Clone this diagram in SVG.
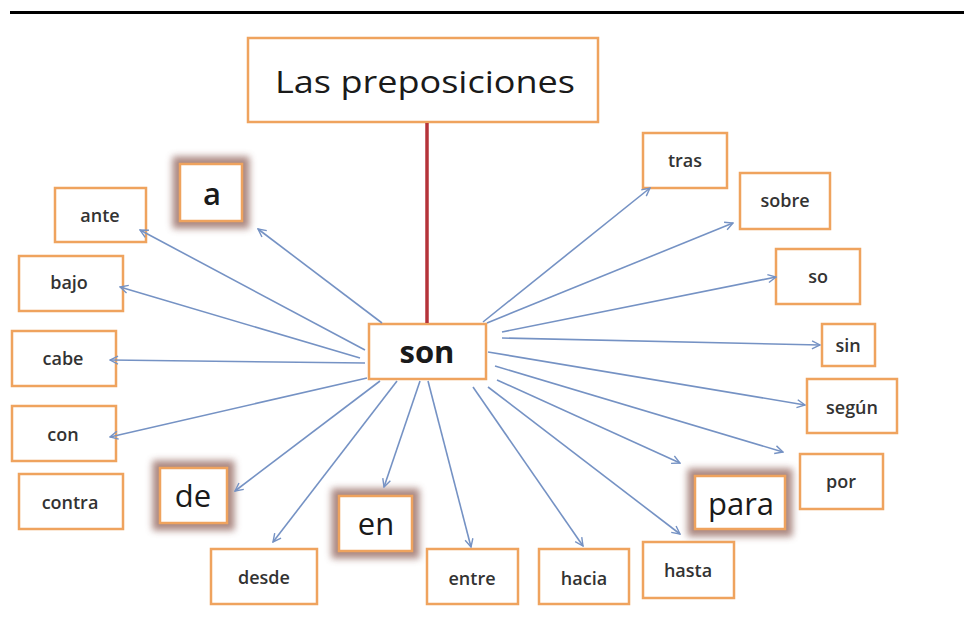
<svg xmlns="http://www.w3.org/2000/svg" width="964" height="633" viewBox="0 0 964 633">
<defs>
<style>
.box{fill:#fff;stroke:#EFA35E;stroke-width:2.5}
.lbl{font-family:"Open Sans","Noto Sans",sans-serif;font-size:18px;font-weight:600;fill:#333;text-anchor:middle}
.big{font-family:"Open Sans","Noto Sans",sans-serif;font-size:31px;fill:#1a1a1a;text-anchor:middle}
.glow{fill:none;stroke:#9C736C;stroke-width:15;filter:url(#blur);opacity:0.85}
.conn{stroke:#7592C4;stroke-width:1.6;fill:none;marker-end:url(#arr)}
</style>
<filter id="blur" x="-40%" y="-40%" width="180%" height="180%"><feGaussianBlur stdDeviation="3.5"/></filter>
<marker id="arr" viewBox="0 0 10 10" refX="9" refY="5" markerWidth="10" markerHeight="10" markerUnits="userSpaceOnUse" orient="auto">
<path d="M1,1 L9,5 L1,9" fill="none" stroke="#7592C4" stroke-width="1.4"/>
</marker>
</defs>
<rect width="964" height="633" fill="#fff"/>
<line x1="10" y1="12.5" x2="964" y2="12.5" stroke="#000" stroke-width="3"/>

<g id="title"><rect class="box" x="248" y="38" width="350" height="84"/><text class="big" x="425" y="93" font-size="35" textLength="300" lengthAdjust="spacingAndGlyphs">Las preposiciones</text></g>
<g id="son"><rect class="box" x="369" y="324" width="117" height="55"/><text class="big" x="427" y="363" font-weight="bold" font-size="30">son</text></g>

<g id="a"><rect class="glow" x="180" y="164" width="62" height="57"/><rect class="box" x="180" y="164" width="62" height="57"/><text class="big" x="212" y="205" font-weight="600">a</text></g>
<g id="de"><rect class="glow" x="160" y="468" width="67" height="55"/><rect class="box" x="160" y="468" width="67" height="55"/><text class="big" x="193" y="507">de</text></g>
<g id="en"><rect class="glow" x="339" y="496" width="73" height="55"/><rect class="box" x="339" y="496" width="73" height="55"/><text class="big" x="376" y="535">en</text></g>
<g id="para"><rect class="glow" x="695" y="476" width="90" height="53"/><rect class="box" x="695" y="476" width="90" height="53"/><text class="big" x="741" y="515">para</text></g>

<g id="ante"><rect class="box" x="55" y="188" width="91" height="54"/><text class="lbl" x="100" y="222">ante</text></g>
<g id="bajo"><rect class="box" x="19" y="256" width="104" height="55"/><text class="lbl" x="69" y="289">bajo</text></g>
<g id="cabe"><rect class="box" x="12" y="331" width="104" height="55"/><text class="lbl" x="63" y="365">cabe</text></g>
<g id="con"><rect class="box" x="12" y="406" width="104" height="55"/><text class="lbl" x="63" y="441">con</text></g>
<g id="contra"><rect class="box" x="19" y="474" width="104" height="55"/><text class="lbl" x="70" y="509">contra</text></g>
<g id="desde"><rect class="box" x="211" y="549" width="106" height="55"/><text class="lbl" x="264" y="584">desde</text></g>
<g id="entre"><rect class="box" x="427" y="549" width="91" height="55"/><text class="lbl" x="472" y="585">entre</text></g>
<g id="hacia"><rect class="box" x="539" y="549" width="90" height="55"/><text class="lbl" x="584" y="585">hacia</text></g>
<g id="hasta"><rect class="box" x="643" y="542" width="91" height="56"/><text class="lbl" x="688" y="577">hasta</text></g>
<g id="por"><rect class="box" x="800" y="454" width="83" height="55"/><text class="lbl" x="841" y="488">por</text></g>
<g id="segun"><rect class="box" x="807" y="379" width="90" height="54"/><text class="lbl" x="852" y="414">según</text></g>
<g id="sin"><rect class="box" x="822" y="324" width="53" height="42"/><text class="lbl" x="848" y="352">sin</text></g>
<g id="so"><rect class="box" x="776" y="249" width="84" height="55"/><text class="lbl" x="818" y="283">so</text></g>
<g id="sobre"><rect class="box" x="740" y="173" width="90" height="56"/><text class="lbl" x="785" y="207">sobre</text></g>
<g id="tras"><rect class="box" x="643" y="133" width="84" height="55"/><text class="lbl" x="685" y="167">tras</text></g>

<g id="connectors">
<line x1="427" y1="123" x2="427" y2="323" stroke="#B5333A" stroke-width="3.5"/>
<line class="conn" x1="365" y1="350" x2="140" y2="230"/>
<line class="conn" x1="382" y1="323" x2="258" y2="229"/>
<line class="conn" x1="360" y1="358" x2="120" y2="287"/>
<line class="conn" x1="365" y1="363" x2="110" y2="360"/>
<line class="conn" x1="367" y1="378" x2="110" y2="437"/>
<line class="conn" x1="380" y1="381" x2="235" y2="491"/>
<line class="conn" x1="397" y1="381" x2="273" y2="542"/>
<line class="conn" x1="420" y1="381" x2="384" y2="487"/>
<line class="conn" x1="428" y1="381" x2="471" y2="547"/>
<line class="conn" x1="473" y1="387" x2="583" y2="546"/>
<line class="conn" x1="488" y1="387" x2="680" y2="534"/>
<line class="conn" x1="497" y1="380" x2="680" y2="463"/>
<line class="conn" x1="495" y1="366" x2="783" y2="452"/>
<line class="conn" x1="488" y1="352" x2="805" y2="405"/>
<line class="conn" x1="502" y1="338" x2="820" y2="345"/>
<line class="conn" x1="502" y1="332" x2="776" y2="277"/>
<line class="conn" x1="487" y1="323" x2="733" y2="223"/>
<line class="conn" x1="483" y1="322" x2="650" y2="188"/>
</g>
</svg>
